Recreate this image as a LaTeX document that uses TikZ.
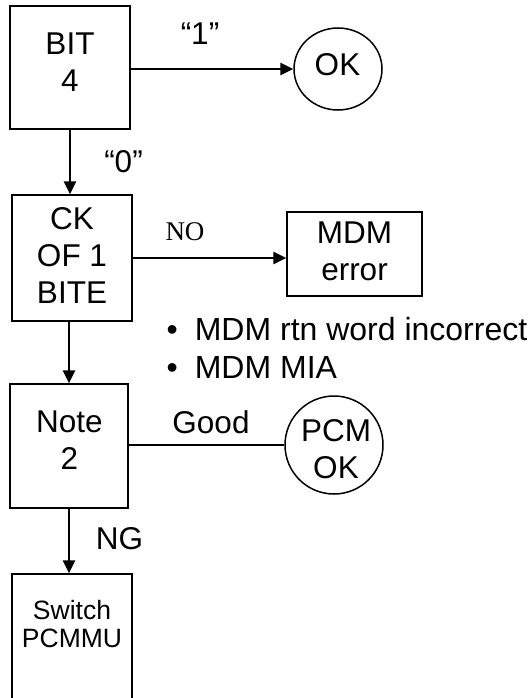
\documentclass[tikz,border=0pt]{standalone}
\usepackage{fontspec}
\setmainfont{Liberation Sans}
\newfontfamily\timesfont{Liberation Serif}
\usetikzlibrary{arrows.meta,shapes.geometric}
\begin{document}
\begin{tikzpicture}[x=1pt,y=-1pt,
  box/.style={draw, line width=1.5pt, rectangle, inner sep=0pt},
  rnd/.style={draw, line width=1.5pt, inner sep=0pt},
  txt/.style={inner sep=0pt, align=center, font=\fontsize{31.5}{37}\selectfont},
  small/.style={inner sep=0pt, align=center, font=\fontsize{26.5}{28}\selectfont},
  lbl/.style={inner sep=0pt, font=\fontsize{31.5}{37}\selectfont},
  flow/.style={line width=2.6pt, -{Triangle[length=13pt,width=12pt]}},
  plain/.style={line width=1.5pt}]
\clip (0,0) rectangle (532,698);
\fill[white] (0,0) rectangle (532,698);
% boxes and circles
\node[box, minimum width=120pt, minimum height=123pt] (bit) at (70,67.5) {};
\node[txt, anchor=north] (bitt) at (70,33) {BIT\\4};
\node[rnd, ellipse, minimum width=88pt, minimum height=82pt] (ok) at (338,69) {};
\node[txt, anchor=north] (okt) at (337.5,53) {OK};
\node[box, minimum width=120pt, minimum height=126pt] (ck) at (72,258) {};
\node[txt, anchor=north] (ckt) at (72,207) {CK\\OF 1\\BITE};
\node[box, minimum width=135pt, minimum height=84pt] (mdm) at (354.5,254) {};
\node[txt, anchor=north] (mdmt) at (354.5,222) {MDM\\error};
\node[box, minimum width=118pt, minimum height=124pt] (note) at (69,446) {};
\node[txt, anchor=north] (notet) at (69.5,411) {Note\\2};
\node[rnd, circle, minimum size=98pt] (pcm) at (334,445) {};
\node[txt, anchor=north] (pcmt) at (336,419) {PCM\\OK};
\node[box, minimum width=120pt, minimum height=156pt] (sw) at (72,652) {};
\node[small, anchor=north] (swt) at (72,600) {Switch\\PCMMU};
% bullets
\node[inner sep=0pt, align=left, anchor=north west, font=\fontsize{32}{38}\selectfont] (bul) at (166.4,317)
  {•\hspace{17pt}MDM rtn word incorrect\\•\hspace{17pt}MDM MIA};
% connectors
\draw[flow] (ok.west -| bit.east) -- (ok.west);
\draw[flow] (bit.south) -- (bit.south |- ck.north);
\draw[flow] (ck.east) -- (ck.east -| mdm.west);
\draw[flow] (note.north |- ck.south) -- (note.north);
\draw[plain] (pcm.west -| note.east) -- (pcm.west);
\draw[flow] (note.south) -- (note.south |- sw.north);
% labels
\node[lbl, anchor=base] (l1) at (200,45) {“1”};
\node[lbl, anchor=base] (l0) at (123.5,172) {“0”};
\node[inner sep=0pt, anchor=base, font=\timesfont\fontsize{27}{30}\selectfont] (lno) at (185,240) {NO};
\node[lbl, anchor=base] (lgood) at (211,433) {Good};
\node[lbl, anchor=base] (lng) at (119.5,549) {NG};
\end{tikzpicture}
\end{document}
